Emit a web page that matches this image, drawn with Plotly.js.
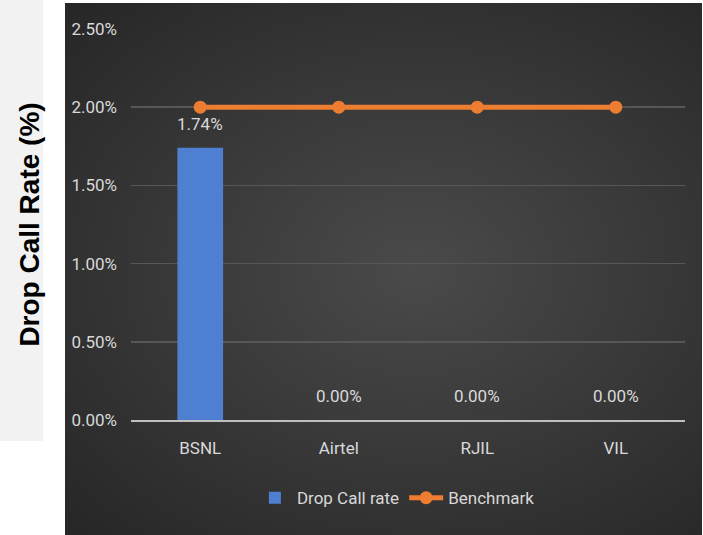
<!DOCTYPE html>
<html>
<head>
<meta charset="utf-8">
<script src="https://cdn.plot.ly/plotly-3.0.1.min.js"></script>
<style>
  html, body { margin: 0; padding: 0; background: #ffffff; }
  #wrap { position: relative; width: 703px; height: 535px; overflow: hidden; }
  #graypanel { position: absolute; left: 0; top: 0; width: 43px; height: 441px; background: #f2f2f2; }
  #darkpanel { position: absolute; left: 65px; top: 3px; width: 637px; height: 532px;
    background: radial-gradient(ellipse at 55% 50%, #4a4a4a 0%, #3a3a3a 45%, #262626 100%); }
  #chart { position: absolute; left: 0; top: 0; width: 703px; height: 535px; }
</style>
</head>
<body>
<div id="wrap">
  <div id="graypanel"></div>
  <div id="darkpanel"></div>
  <div id="chart"></div>
</div>
<script>
const categories = ["BSNL", "Airtel", "RJIL", "VIL"];
const dropCallRate = [0.0174, 0.0, 0.0, 0.0];
const benchmark = [0.02, 0.02, 0.02, 0.02];
const yTickVals = [0, 0.005, 0.01, 0.015, 0.02, 0.025];
const yTickText = ["0.00%", "0.50%", "1.00%", "1.50%", "2.00%", "2.50%"];

const FONT = '"Liberation Sans Narrow", "Roboto", "DejaVu Sans Condensed", sans-serif';
const TXT = '#d9d9d9';

const traces = [
  {
    type: 'bar', name: 'Drop Call rate',
    x: categories, y: dropCallRate,
    marker: { color: '#4f7fd0' },
    width: 0.33,
    hoverinfo: 'skip'
  },
  {
    type: 'scatter', mode: 'lines+markers', name: 'Benchmark',
    x: categories, y: benchmark,
    line: { color: '#ed7d31', width: 5 },
    marker: { color: '#ed7d31', size: 13, symbol: 'circle' },
    hoverinfo: 'skip'
  }
];

const annotations = categories.map((c, i) => ({
  x: c, y: dropCallRate[i], xref: 'x', yref: 'y',
  text: (dropCallRate[i] * 100).toFixed(2) + '%',
  showarrow: false, yanchor: 'bottom', yshift: 12,
  font: { family: FONT, size: 17, color: TXT }
}));

const layout = {
  width: 703, height: 535,
  margin: { l: 131, r: 18, t: 29, b: 115 },
  paper_bgcolor: 'rgba(0,0,0,0)',
  plot_bgcolor: 'rgba(0,0,0,0)',
  font: { family: FONT, size: 17, color: TXT },
  showlegend: true,
  legend: {
    orientation: 'h', x: 0.22, xanchor: 'left', y: -0.2, yanchor: 'middle',
    font: { family: FONT, size: 17, color: TXT },
    bgcolor: 'rgba(0,0,0,0)', itemwidth: 34, tracegroupgap: 0
  },
  xaxis: {
    type: 'category', tickvals: categories,
    showgrid: false, zeroline: false,
    showline: true, linecolor: '#bfbfbf', linewidth: 2,
    ticks: '', ticklabelstandoff: 12,
    tickfont: { family: FONT, size: 17, color: TXT }
  },
  yaxis: {
    range: [0, 0.025], tickvals: yTickVals, ticktext: yTickText,
    showgrid: true, gridcolor: '#575757', gridwidth: 1.5,
    zeroline: false, showline: false, ticks: '',
    ticklabelstandoff: 13,
    tickfont: { family: FONT, size: 17, color: TXT },
    title: {
      text: '<b>Drop Call Rate (%)</b>', standoff: 23,
      font: { family: 'Liberation Sans, Arial, sans-serif', size: 28, color: '#000000' }
    }
  },
  bargap: 0.5,
  annotations: annotations
};

Plotly.newPlot('chart', traces, layout, { displayModeBar: false, staticPlot: true });
</script>
</body>
</html>
